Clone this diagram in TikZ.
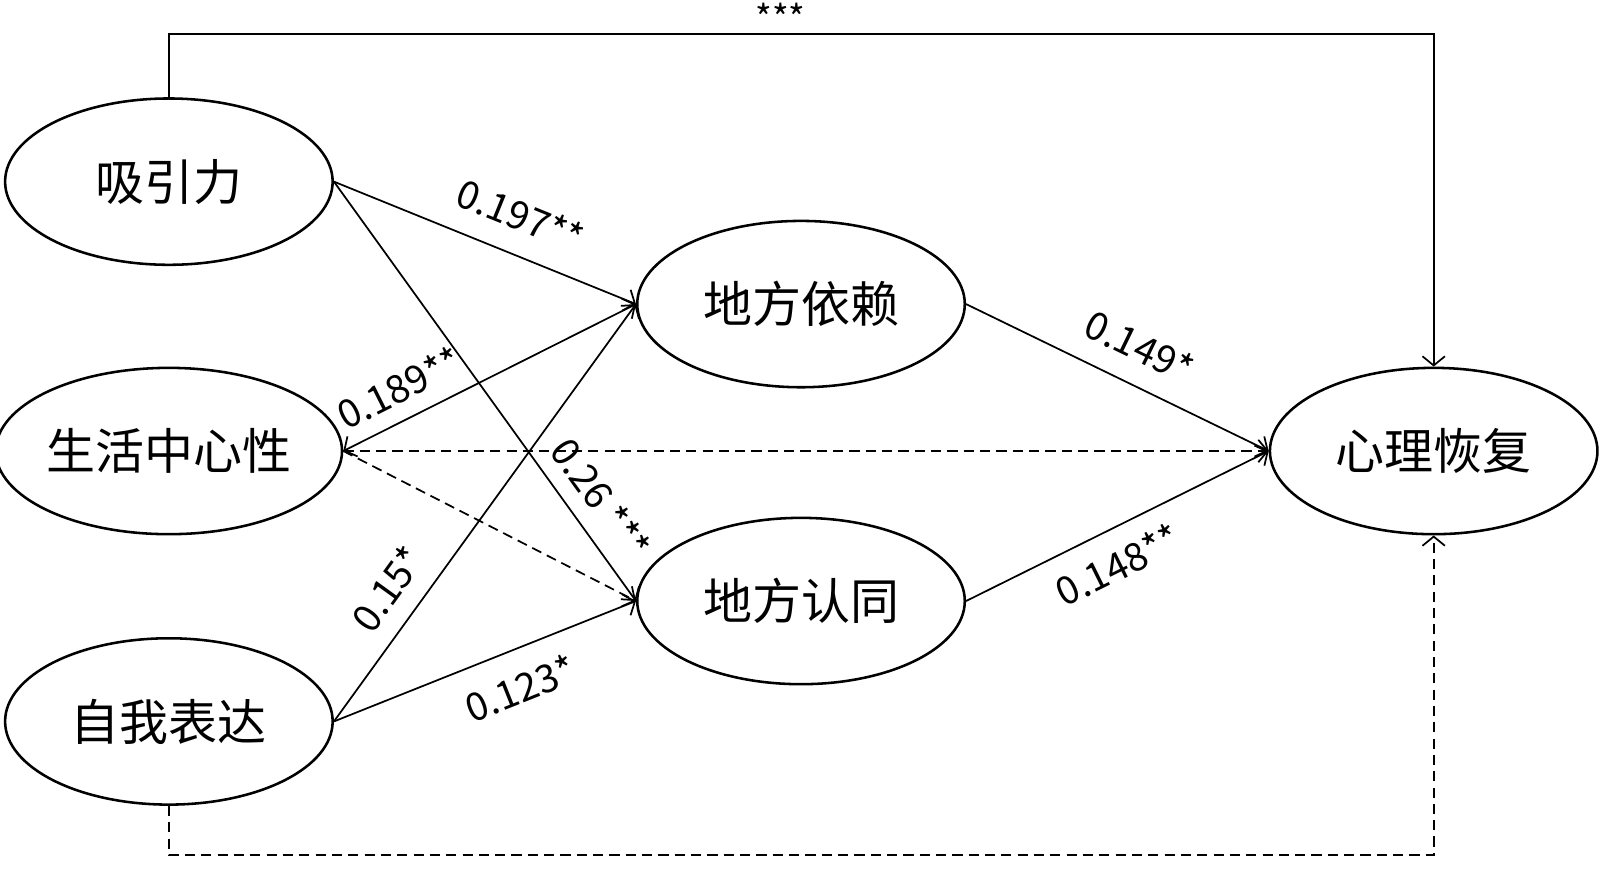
\documentclass[tikz,border=0pt]{standalone}
\usepackage{fontspec}
\setmainfont{Noto Sans CJK SC}
\usetikzlibrary{shapes.geometric,arrows.meta}
\begin{document}
\begin{tikzpicture}[x=1pt,y=-1pt,
  ell/.style={ellipse,draw,line width=2.5pt,minimum width=321pt,minimum height=163pt,inner sep=0pt,font=\fontsize{48}{54}\selectfont},
  tipb/.tip={Straight Barb[length=9pt,width=22pt,line width=1.7pt]},
  conn/.style={line width=1.7pt,-tipb},
  both/.style={line width=1.7pt,tipb-tipb},
  dsh/.style={dash pattern=on 10pt off 6pt},
  lab/.style={font=\fontsize{38}{44}\selectfont,sloped,inner sep=0pt}]
\useasboundingbox (0,0) rectangle (1568,851.6);
\node[ell] (xyl) at (165.5,178) {吸引力};
\node[ell] (shz) at (165.5,442) {生活中心性};
\node[ell] (zw)  at (165.5,707) {自我表达};
\node[ell] (dy)  at (785,298) {地方依赖};
\node[ell] (dr)  at (785,589) {地方认同};
\node[ell] (hf)  at (1405,442) {心理恢复};
\coordinate (t1) at (xyl.north |- 0,33);
\coordinate (t2) at (hf.north |- 0,33);
\coordinate (b1) at (zw.south |- 0,838);
\coordinate (b2) at (hf.south |- 0,838);
\draw[conn] (xyl.north) -- (t1) -- (t2) -- (hf.north);
\node[font=\fontsize{35}{40}\selectfont,inner sep=0pt] (stars) at (765,17) {***};
\draw[conn,dsh] (zw.south) -- (b1) -- (b2) -- (hf.south);
\draw[conn] (xyl.east) -- node[lab,above=22pt,pos=0.57] (l1) {0.197**} (dy.west);
\draw[conn] (xyl.east) -- node[lab,above=15pt,pos=0.80] (l2) {0.26 ***} (dr.west);
\draw[both] (dy.west) -- node[lab,above=15pt,pos=0.76] (l3) {0.189**} (shz.east);
\draw[conn,dsh] (shz.east) -- (hf.west);
\draw[conn,dsh] (shz.east) -- (dr.west);
\draw[conn] (zw.east) -- node[lab,above=18pt,pos=0.27] (l4) {0.15*} (dy.west);
\draw[conn] (zw.east) -- node[lab,below=21pt,pos=0.57] (l5) {0.123*} (dr.west);
\draw[conn] (dy.east) -- node[lab,above=21pt,pos=0.52] (l6) {0.149*} (hf.west);
\draw[conn] (dr.east) -- node[lab,below=18pt,pos=0.45] (l7) {0.148**} (hf.west);
\end{tikzpicture}
\end{document}
